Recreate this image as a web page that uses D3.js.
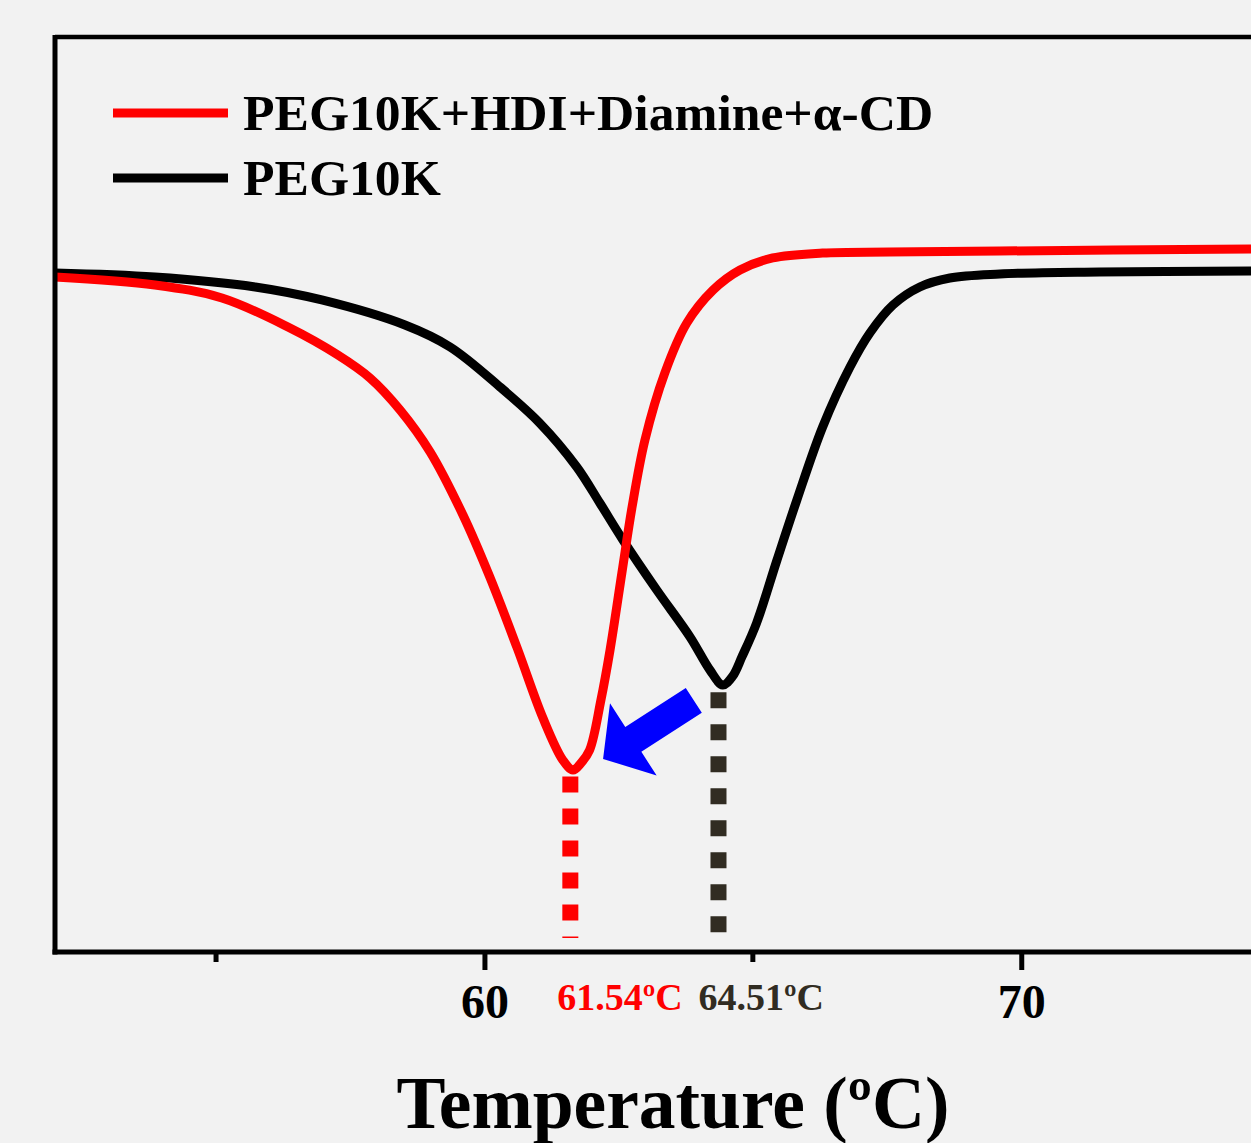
<!DOCTYPE html>
<html>
<head>
<meta charset="utf-8">
<script src="https://cdn.jsdelivr.net/npm/d3@7"></script>
<style>
  body { margin: 0; background: #f2f2f2; }
  text { font-family: "Liberation Serif", "Times New Roman", serif; font-weight: bold; }
</style>
</head>
<body>
<div id="plot"></div>
<script>
// DSC heating curves, heat flow in arbitrary units (endo down)
var tempBlack = [52.00, 53.86, 55.73, 56.97, 58.52, 59.36, 60.29, 61.03, 61.72, 62.15, 62.58, 63.21, 63.83, 64.20, 64.44, 64.62, 64.80, 65.07, 65.45, 65.82, 66.30, 66.81, 67.18, 67.61, 68.11, 68.67, 69.60, 71.46, 74.28];
var flowBlack = [74.21, 73.77, 72.68, 71.26, 68.52, 66.12, 61.75, 57.81, 53.01, 49.07, 45.03, 39.56, 34.43, 30.82, 29.18, 30.10, 32.30, 35.96, 42.84, 49.40, 57.38, 63.93, 67.65, 70.71, 72.68, 73.66, 74.10, 74.32, 74.43];

var tempRed = [52.00, 53.86, 55.11, 56.34, 57.27, 57.87, 58.43, 58.99, 59.60, 60.10, 60.61, 61.09, 61.46, 61.65, 61.80, 61.96, 62.17, 62.34, 62.56, 62.75, 62.99, 63.36, 63.77, 64.26, 64.76, 65.37, 66.30, 67.55, 69.60, 74.28];
var flowRed = [73.77, 72.90, 71.48, 68.31, 65.25, 62.73, 59.23, 54.64, 47.76, 40.98, 33.22, 25.57, 20.98, 19.89, 20.66, 22.08, 27.54, 33.01, 41.42, 48.63, 55.96, 63.28, 68.74, 72.35, 74.54, 75.85, 76.39, 76.50, 76.61, 76.83];

var seriesNames = ["PEG10K+HDI+Diamine+\u03b1-CD", "PEG10K"];
var seriesColors = ["#ff0000", "#000000"];

var majorTicks = [60, 70];
var minorTicks = [55, 65];

// peak markers (position) and their labels
var peakTemps = [61.60, 64.36];
var peakFlows = [19.4, 28.6];
var peakLabels = ["61.54\u00baC", "64.51\u00baC"];
var peakColors = ["#ff0000", "#312c22"];

// arrow: from the PEG10K peak towards the shifted peak
var arrowFrom = [63.90, 27.5];
var arrowTo = [62.21, 21.1];

var W = 1251, H = 1143;
var margin = { top: 37, right: 0, bottom: 191, left: 55 };

var x = d3.scaleLinear().domain([52, 74.28]).range([margin.left, W]);
var y = d3.scaleLinear().domain([0, 100]).range([H - margin.bottom, margin.top]);

var svg = d3.select("#plot").append("svg")
  .attr("width", W)
  .attr("height", H)
  .style("display", "block");

svg.append("rect").attr("width", W).attr("height", H).attr("fill", "#f2f2f2");

var line = d3.line()
  .x(d => x(d[0]))
  .y(d => y(d[1]))
  .curve(d3.curveCatmullRom.alpha(0.5));

var red = tempRed.map((t, i) => [t, flowRed[i]]);
var black = tempBlack.map((t, i) => [t, flowBlack[i]]);

// dotted drop lines from the peaks
peakTemps.forEach(function (t, i) {
  svg.append("line")
    .attr("x1", x(t)).attr("x2", x(t))
    .attr("y1", y(peakFlows[i]) + 2)
    .attr("y2", y(0) - 14)
    .attr("stroke", peakColors[i])
    .attr("stroke-width", 16)
    .attr("stroke-dasharray", "16,16");
});

svg.append("path").datum(black)
  .attr("d", line).attr("fill", "none")
  .attr("stroke", seriesColors[1]).attr("stroke-width", 9)
  .attr("stroke-linejoin", "round");

svg.append("path").datum(red)
  .attr("d", line).attr("fill", "none")
  .attr("stroke", seriesColors[0]).attr("stroke-width", 9)
  .attr("stroke-linejoin", "round");

// blue arrow
(function () {
  var x0 = x(arrowFrom[0]), y0 = y(arrowFrom[1]);
  var x1 = x(arrowTo[0]), y1 = y(arrowTo[1]);
  var len = Math.hypot(x1 - x0, y1 - y0);
  var ux = (x1 - x0) / len, uy = (y1 - y0) / len;
  var nx = -uy, ny = ux;
  var sw = 14.8, hw = 43, hl = 36;
  var bx = x1 - ux * hl, by = y1 - uy * hl;
  var pts = [
    [x0 + nx * sw, y0 + ny * sw],
    [bx + nx * sw, by + ny * sw],
    [bx + nx * hw, by + ny * hw],
    [x1, y1],
    [bx - nx * hw, by - ny * hw],
    [bx - nx * sw, by - ny * sw],
    [x0 - nx * sw, y0 - ny * sw]
  ];
  svg.append("polygon")
    .attr("points", pts.map(p => p.join(",")).join(" "))
    .attr("fill", "#0000ff");
})();

// frame: left and bottom axes, top border
svg.append("line")
  .attr("x1", margin.left).attr("x2", W)
  .attr("y1", margin.top).attr("y2", margin.top)
  .attr("stroke", "#000").attr("stroke-width", 4.5);
svg.append("line")
  .attr("x1", margin.left).attr("x2", margin.left)
  .attr("y1", margin.top - 2).attr("y2", y(0) + 2.5)
  .attr("stroke", "#000").attr("stroke-width", 5);

var xAxis = svg.append("g")
  .attr("transform", `translate(0,${y(0)})`)
  .call(d3.axisBottom(x).tickValues(majorTicks).tickSize(18).tickPadding(14).tickFormat(d3.format("d")));
xAxis.select(".domain").attr("stroke", "#000").attr("stroke-width", 5)
  .attr("d", `M${margin.left - 2.5},0H${W}`);
xAxis.selectAll(".tick line").attr("stroke", "#000").attr("stroke-width", 5);
xAxis.selectAll(".tick text")
  .attr("fill", "#000")
  .style("font-size", "48px")
  .style("font-family", "'Liberation Serif', 'Times New Roman', serif")
  .style("font-weight", "bold");

svg.append("g")
  .selectAll("line")
  .data(minorTicks)
  .join("line")
  .attr("x1", d => x(d)).attr("x2", d => x(d))
  .attr("y1", y(0)).attr("y2", y(0) + 10)
  .attr("stroke", "#000").attr("stroke-width", 5);

// peak labels
var labelShift = [-13, -20];
peakLabels.forEach(function (lab, i) {
  svg.append("text")
    .attr("x", x(peakTemps[i]) + labelShift[i])
    .attr("y", 1010)
    .attr("fill", peakColors[i])
    .style("font-size", "38px")
    .text(lab);
});

// axis title
svg.append("text")
  .attr("x", 673).attr("y", 1128)
  .attr("text-anchor", "middle")
  .style("font-size", "73.5px")
  .text("Temperature (\u00baC)");

// legend
seriesNames.forEach(function (name, i) {
  var ly = 113 + i * 65;
  svg.append("line")
    .attr("x1", 113).attr("x2", 228)
    .attr("y1", ly).attr("y2", ly)
    .attr("stroke", seriesColors[i]).attr("stroke-width", 9);
  svg.append("text")
    .attr("x", 243).attr("y", ly + 17)
    .style("font-size", "51.6px")
    .text(name);
});
</script>
</body>
</html>
